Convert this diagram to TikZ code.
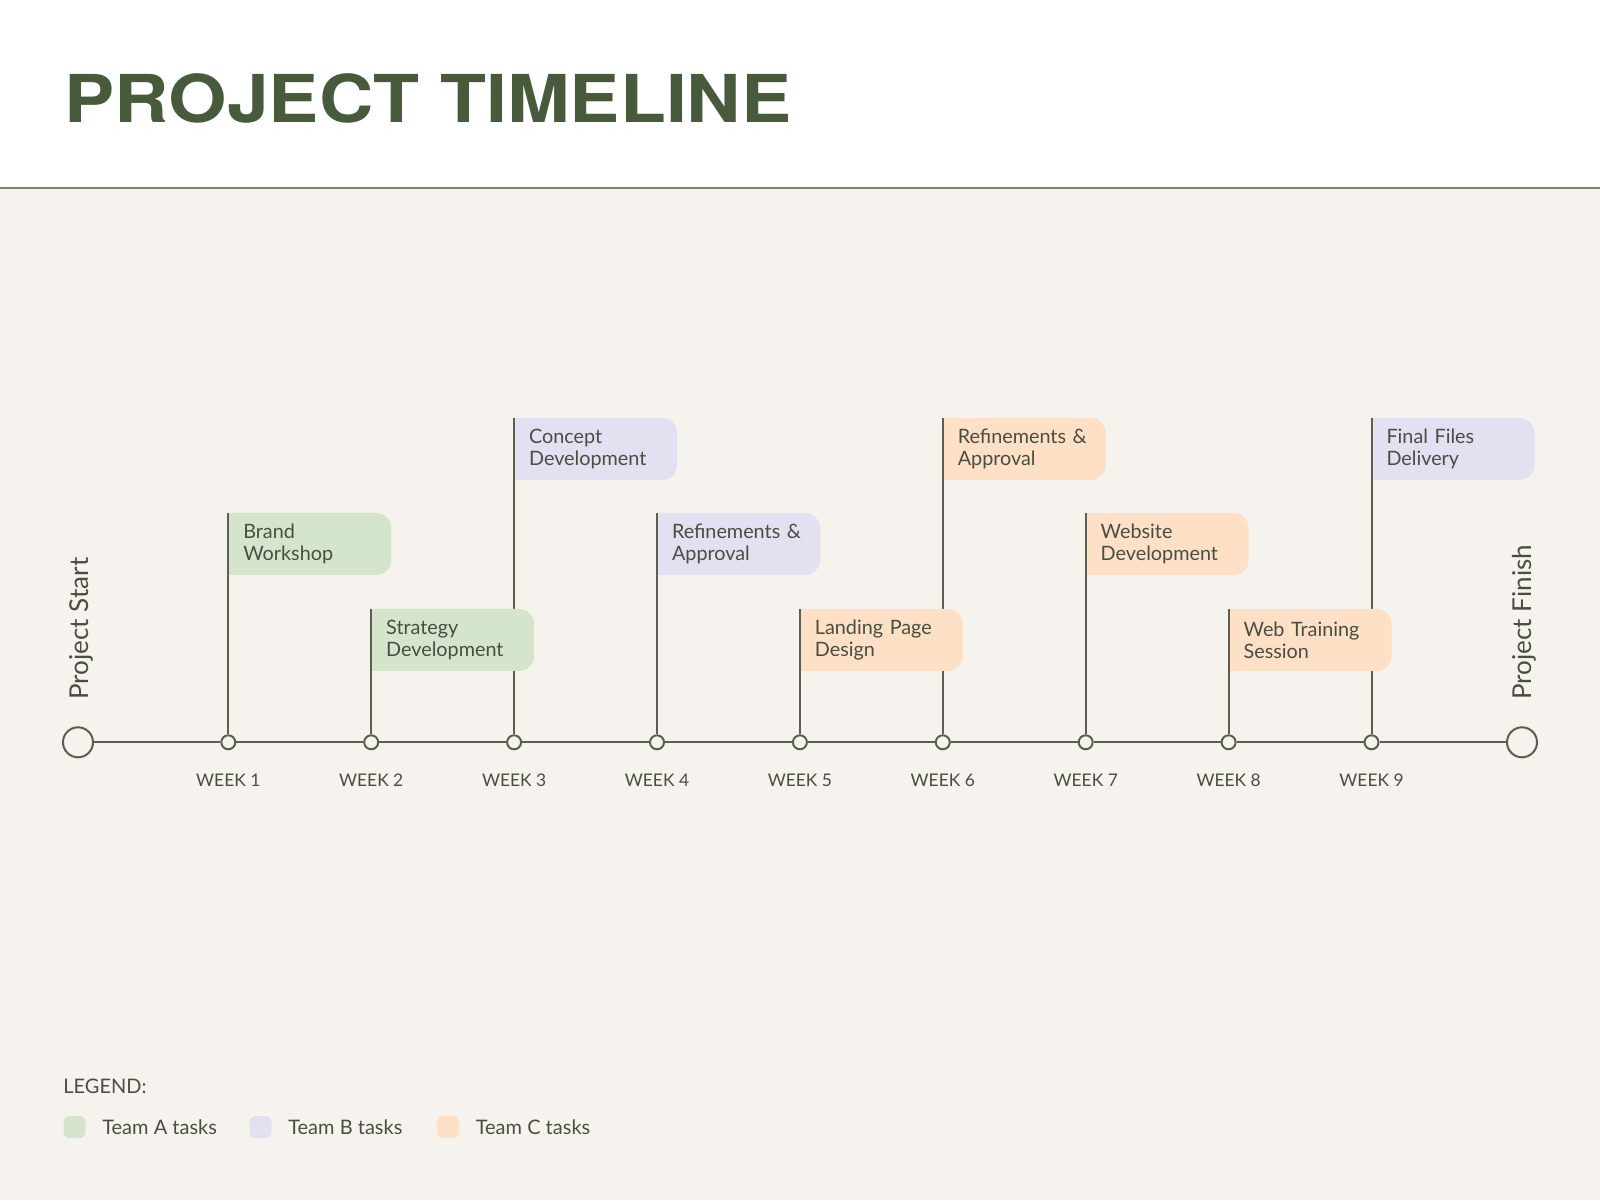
\documentclass[tikz,border=0pt]{standalone}
\usepackage{fontspec}
\setmainfont{Lato}
\newfontfamily\titlefont[FakeStretch=1.14]{TeX Gyre Heros}
\usetikzlibrary{positioning}

\definecolor{pagebg}{HTML}{F6F3EE}
\definecolor{titlegreen}{HTML}{475A3B}
\definecolor{inkline}{HTML}{596050}
\definecolor{inktext}{HTML}{484E42}
\definecolor{rulegray}{HTML}{7E8574}
\definecolor{teamA}{HTML}{D5E5CB}
\definecolor{teamB}{HTML}{E2E1F1}
\definecolor{teamC}{HTML}{FDE0C6}

\pgfdeclarelayer{bg}
\pgfsetlayers{bg,main}

\tikzset{
  endpt/.style={circle, draw=inkline, line width=1pt, fill=pagebg, minimum size=15pt, inner sep=0pt},
  tick/.style={circle, draw=inkline, line width=1pt, fill=pagebg, minimum size=7pt, inner sep=0pt},
  axis/.style={draw=inkline, line width=1pt},
  stem/.style={draw=inkline, line width=1pt},
  weeklbl/.style={text=inktext, font=\fontsize{8.7}{11}\selectfont},
  taskbox/.style={anchor=north west, text=inktext, font=\fontsize{9.9}{10.85}\selectfont,
    text width=66.5pt, inner xsep=7.5pt, inner ysep=0pt, minimum height=31pt, outer sep=0pt, align=left},
  endlbl/.style={rotate=90, anchor=base west, inner sep=0pt, text=inktext, font=\fontsize{13}{15}\selectfont},
  legendbox/.style={fill=#1, rounded corners=3pt, minimum size=11pt, inner sep=0pt},
  legendlbl/.style={anchor=west, inner sep=0pt, text=inktext, font=\fontsize{10}{11}\selectfont},
}

\begin{document}
\begin{tikzpicture}[x=0.5pt, y=0.5pt]
    \useasboundingbox (0,0) rectangle (1600,1200);
    \begin{pgfonlayer}{bg}
        \fill[pagebg] (0,0) rectangle (1600,1012);
        \fill[white] (0,1012) rectangle (1600,1200);
        \draw[rulegray, line width=1pt] (0,1012) -- (1600,1012);
    \end{pgfonlayer}

    % header
    \node[anchor=base west, inner sep=0pt, text=titlegreen,
          font=\titlefont\bfseries\fontsize{33}{40}\selectfont] (title) at (64,1077.5) {PROJECT TIMELINE};

    % axis with start, finish and weeks
    \node[endpt] (start) at (78,457.7) {};
    \node[endpt] (finish) at (1522,457.7) {};
    \foreach \i in {1,...,9} {
        \node[tick] (w\i) at ({228.3+(\i-1)*142.9},457.7) {};
        \node[weeklbl] (l\i) at ([yshift=-19pt]w\i.center) {WEEK \i};
    }
    \draw[axis] (start) -- (w1) -- (w2) -- (w3) -- (w4) -- (w5) -- (w6) -- (w7) -- (w8) -- (w9) -- (finish);

    \node[endlbl] (startlbl) at (88,500) {Project Start};
    \node[endlbl] (finishlbl) at (1531,500) {Project Finish};

    % tasks, from last to first so each box hides the next stem
    \foreach \i/\top/\col/\txt in {
        9/782/teamB/{Final Files\\Delivery},
        8/591/teamC/{Web Training\\Session},
        7/687/teamC/{Website\\Development},
        6/782/teamC/{Refinements \&\\Approval},
        5/591/teamC/{Landing Page\\Design},
        4/687/teamB/{Refinements \&\\Approval},
        3/782/teamB/{Concept\\Development},
        2/591/teamA/{Strategy\\Development},
        1/687/teamA/{Brand\\Workshop}} {
        \node[taskbox] (t\i) at (w\i |- 0,\top) {\txt};
        \begin{pgfonlayer}{bg}
            \fill[\col] (t\i.north west) -- ([xshift=-7.5pt]t\i.north east)
                arc[start angle=90, end angle=0, radius=7.5pt] -- ([yshift=7.5pt]t\i.south east)
                arc[start angle=0, end angle=-90, radius=7.5pt] -- (t\i.south west) -- cycle;
            \draw[stem] (w\i) -- (t\i.north west);
        \end{pgfonlayer}
    }

    % legend
    \node[legendlbl] (legend) at (63,114) {LEGEND:};
    \node[legendbox=teamA] (ka) at (74.5,73) {};
    \node[legendlbl, right=8pt of ka] (la) {Team A tasks};
    \node[legendbox=teamB] (kb) at (260.5,73) {};
    \node[legendlbl, right=8pt of kb] (lb) {Team B tasks};
    \node[legendbox=teamC] (kc) at (448,73) {};
    \node[legendlbl, right=8pt of kc] (lc) {Team C tasks};
\end{tikzpicture}
\end{document}
